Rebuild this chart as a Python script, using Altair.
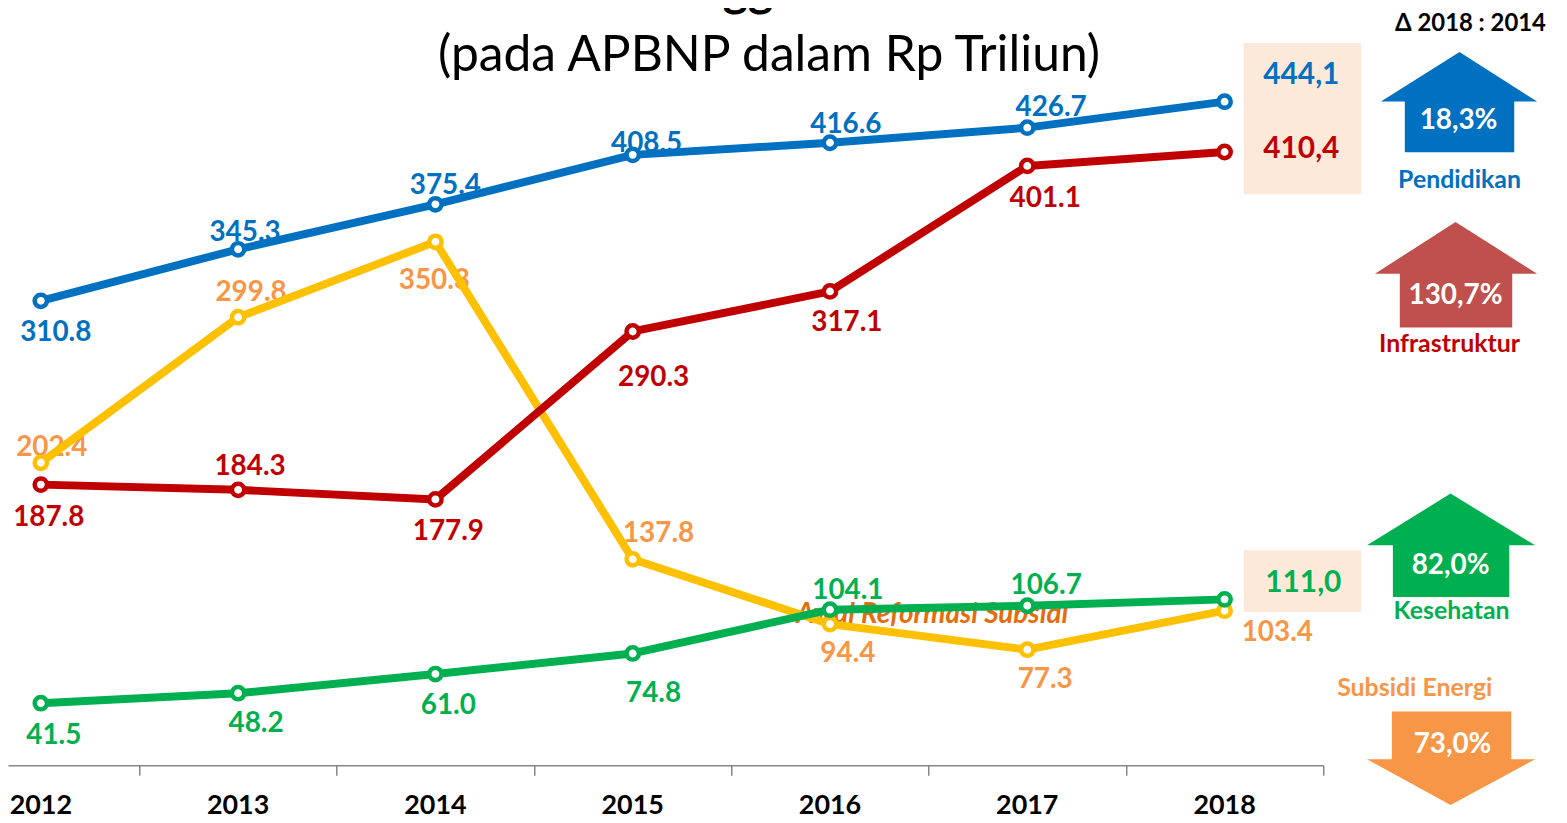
import altair as alt
import pandas as pd

# ---------------- data ----------------
years = [2012, 2013, 2014, 2015, 2016, 2017, 2018]
series_names = ["Pendidikan", "Infrastruktur", "Kesehatan", "Subsidi Energi"]
pendidikan = [310.8, 345.3, 375.4, 408.5, 416.6, 426.7, 444.1]
infrastruktur = [187.8, 184.3, 177.9, 290.3, 317.1, 401.1, 410.4]
kesehatan = [41.5, 48.2, 61.0, 74.8, 104.1, 106.7, 111.0]
subsidi_energi = [202.4, 299.8, 350.3, 137.8, 94.4, 77.3, 103.4]
pct_change = ["18,3%", "130,7%", "82,0%", "73,0%"]
title_text = "Alokasi Anggaran Tematik"
subtitle_text = "(pada APBNP dalam Rp Triliun)"
header_text = "\u0394 2018 : 2014"
reform_text = "Awal Reformasi Subsidi"

values_by_series = {
    "Pendidikan": pendidikan,
    "Infrastruktur": infrastruktur,
    "Kesehatan": kesehatan,
    "Subsidi Energi": subsidi_energi,
}

# ---------------- styles ----------------
FONT = "Lato"
line_colors = {"Pendidikan": "#0070C0", "Infrastruktur": "#C00000",
               "Kesehatan": "#00B050", "Subsidi Energi": "#FFC000"}
label_colors = {"Pendidikan": "#0070C0", "Infrastruktur": "#C00000",
                "Kesehatan": "#00B050", "Subsidi Energi": "#F79646"}
arrow_colors = {"Pendidikan": "#0070C0", "Infrastruktur": "#C0504D",
                "Kesehatan": "#00B050", "Subsidi Energi": "#F79646"}
box_color = "#FDE9D9"

# label offsets (pixels, label centre relative to its point); None = no label
label_offsets = {
    "Pendidikan": [(15, 30), (7, -18), (10, -20), (14, -13), (16, -20), (24, -22), None],
    "Infrastruktur": [(8, 32), (12, -25), (13, 31), (21, 45), (17, 30), (18, 31), None],
    "Kesehatan": [(13, 31), (18, 29), (13, 30), (21, 39), (18, -21), (19, -22), None],
    "Subsidi Energi": [(11, -17), (13, -26), (-1, 37), (26, -27), (18, 28), (18, 28), (53, 20)],
}

# ---------------- geometry ----------------
W, H = 1322, 759
PAD = {"left": 0, "top": 0, "right": 237, "bottom": 56}
PXY0 = (1231 - 41) / 6.0
X0 = 2012 - (41 - 8) / PXY0
X1 = 2018.5
PXY = W / (X1 - X0)
YMAX = 505.4
PXV = H / YMAX


def gx(page_x):
    return X0 + (page_x - 8) / PXY


def gy(page_y):
    return (H - (page_y - 8)) / PXV


xs = alt.Scale(domain=[X0, X1], nice=False, zero=False)
ys = alt.Scale(domain=[0, YMAX], nice=False, zero=False)
xaxis = alt.Axis(values=[y + 0.5 for y in years], labels=False, ticks=True, tickSize=10,
                 grid=False, title=None, domainColor="#868686", tickColor="#868686",
                 domainWidth=1.5, tickWidth=1.5)


def X(f):
    return alt.X(f + ":Q", scale=xs, axis=xaxis)


def Y(f):
    return alt.Y(f + ":Q", scale=ys, axis=None)


layers = []

# boxes behind 2018 values
boxes = pd.DataFrame({
    "x": [gx(1250), gx(1250)], "x2": [gx(1368), gx(1368)],
    "y": [gy(41), gy(551)], "y2": [gy(193), gy(613)],
})
layers.append(alt.Chart(boxes).mark_rect(color=box_color).encode(
    x=X("x"), x2="x2", y=Y("y"), y2="y2"))

# "Awal Reformasi Subsidi" (behind the lines)
reform = pd.DataFrame({"x": [gx(937)], "y": [gy(624)], "t": [reform_text]})
layers.append(alt.Chart(reform).mark_text(font=FONT, fontSize=28, fontWeight="bold",
                                          fontStyle="italic", color="#E46C0A",
                                          align="center", baseline="alphabetic").encode(
    x=X("x"), y=Y("y"), text="t:N"))

# data labels (under the lines)
rows = []
for s in series_names:
    for yr, v, off in zip(years, values_by_series[s], label_offsets[s]):
        if off is None:
            continue
        dx, dy = off
        rows.append({"x": yr + dx / PXY, "y": v - (dy + 10) / PXV,
                     "t": f"{v:.1f}", "c": label_colors[s]})
labels = pd.DataFrame(rows)
layers.append(alt.Chart(labels).mark_text(font=FONT, fontSize=28, fontWeight="bold",
                                          align="center", baseline="alphabetic").encode(
    x=X("x"), y=Y("y"), text="t:N", color=alt.Color("c:N", scale=None)))

# lines and markers
draw_order = ["Subsidi Energi", "Infrastruktur", "Kesehatan", "Pendidikan"]
for s in draw_order:
    df = pd.DataFrame({"year": years, "value": values_by_series[s]})
    layers.append(alt.Chart(df).mark_line(strokeWidth=8, color=line_colors[s],
                                          strokeJoin="round").encode(
        x=X("year"), y=Y("value")))
for s in draw_order:
    df = pd.DataFrame({"year": years, "value": values_by_series[s]})
    layers.append(alt.Chart(df).mark_point(shape="circle", size=154, fill="white",
                                           stroke=line_colors[s], strokeWidth=4.5,
                                           opacity=1, fillOpacity=1).encode(
        x=X("year"), y=Y("value")))

# year labels
yl = pd.DataFrame({"year": years, "t": [str(y) for y in years]})
layers.append(alt.Chart(yl).mark_text(font=FONT, fontSize=27, fontWeight="bold",
                                      color="black", align="center",
                                      baseline="alphabetic").encode(
    x=X("year"), y=alt.value(816 - 8), text="t:N"))

# arrows (custom symbol paths)
R = 100.0
arrow_geom = {
    "Pendidikan": (1467, 100, [(0, -50), (78, 0), (55, 0), (55, 51), (-55, 51), (-55, 0), (-79, 0)]),
    "Infrastruktur": (1463, 273, [(0, -52), (82, 0), (57, 0), (57, 54), (-56, 54), (-56, 0), (-81, 0)]),
    "Kesehatan": (1458, 546, [(0, -52), (85, 0), (59, 0), (59, 52), (-58, 52), (-58, 0), (-84, 0)]),
    "Subsidi Energi": (1458, 761, [(0, 46), (85, 0), (61, 0), (61, -48), (-59, -48), (-59, 0), (-84, 0)]),
}
for s in series_names:
    cx, cy, pts = arrow_geom[s]
    path = "M " + " L ".join(f"{px / R:.3f} {py / R:.3f}" for px, py in pts) + " Z"
    df = pd.DataFrame({"x": [gx(cx)], "y": [gy(cy)]})
    layers.append(alt.Chart(df).mark_point(shape=path, size=(2 * R) ** 2, filled=True,
                                           color=arrow_colors[s], opacity=1,
                                           strokeWidth=0).encode(
        x=X("x"), y=Y("y")))

# bold annotation texts
ann = [
    (775, 4, title_text, 48, "black"),
    (1478, 29, header_text, 24, "black"),
    (1308, 82, f"{pendidikan[-1]:.1f}".replace(".", ","), 30, label_colors["Pendidikan"]),
    (1308, 157, f"{infrastruktur[-1]:.1f}".replace(".", ","), 30, label_colors["Infrastruktur"]),
    (1310, 593, f"{kesehatan[-1]:.1f}".replace(".", ","), 30, label_colors["Kesehatan"]),
    (1466, 128, pct_change[0], 28, "white"),
    (1463, 303, pct_change[1], 28, "white"),
    (1458, 575, pct_change[2], 28, "white"),
    (1460, 755, pct_change[3], 28, "white"),
    (1467, 187, series_names[0], 25, label_colors["Pendidikan"]),
    (1457, 352, series_names[1], 25, label_colors["Infrastruktur"]),
    (1459, 620, series_names[2], 25, label_colors["Kesehatan"]),
    (1422, 697, series_names[3], 25, label_colors["Subsidi Energi"]),
]
ann_df = pd.DataFrame({
    "x": [gx(a[0]) for a in ann], "y": [gy(a[1]) for a in ann],
    "t": [a[2] for a in ann], "s": [a[3] for a in ann], "c": [a[4] for a in ann],
})
layers.append(alt.Chart(ann_df).mark_text(font=FONT, fontWeight="bold", align="center",
                                          baseline="alphabetic").encode(
    x=X("x"), y=Y("y"), text="t:N",
    size=alt.Size("s:Q", scale=None), color=alt.Color("c:N", scale=None)))

# subtitle (regular)
sub = pd.DataFrame({"x": [gx(773)], "y": [gy(69)], "t": [subtitle_text]})
layers.append(alt.Chart(sub).mark_text(font=FONT, fontSize=50, fontWeight="normal",
                                       color="black", align="center",
                                       baseline="alphabetic").encode(
    x=X("x"), y=Y("y"), text="t:N"))

chart = alt.layer(*layers).properties(
    width=W, height=H,
    autosize=alt.AutoSizeParams(type="none"),
    padding=PAD,
).configure(font=FONT).configure_view(stroke="transparent", strokeWidth=0)

chart.save("out.html", embed_options={"renderer": "svg", "actions": False})
